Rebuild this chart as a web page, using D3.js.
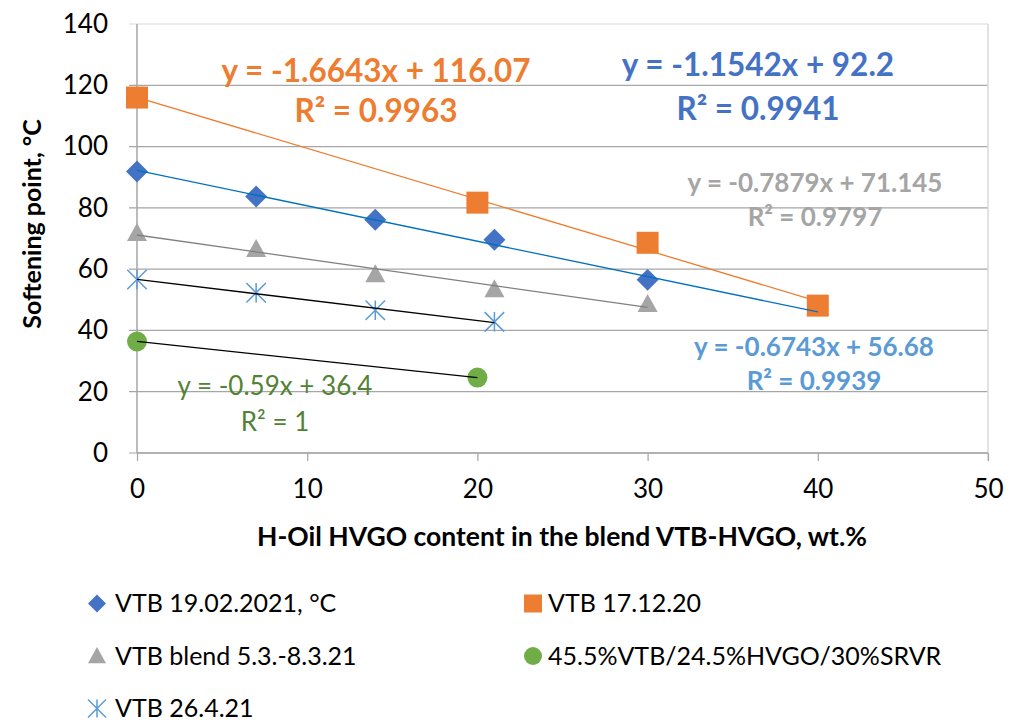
<!DOCTYPE html>
<html>
<head>
<meta charset="utf-8">
<script src="https://cdn.jsdelivr.net/npm/d3@7"></script>
<style>
  body { margin: 0; background: #fff; }
  text { font-family: Lato, "Liberation Sans", sans-serif; }
</style>
</head>
<body>
<div id="chart"></div>
<script>
// values
var xVtb1902 = [0, 7, 14, 21, 30];
var yVtb1902 = [91.9, 83.7, 76.1, 69.6, 56.5];
var xVtb1712 = [0, 20, 30, 40];
var yVtb1712 = [116, 81.7, 68.6, 48.1];
var xBlend = [0, 7, 14, 21, 30];
var yBlend = [71.8, 66.6, 58.3, 53.4, 48.6];
var xSrvr = [0, 20];
var ySrvr = [36.4, 24.6];
var xVtb2604 = [0, 7, 14, 21];
var yVtb2604 = [56.6, 52.3, 46.6, 42.8];

var xTicks = [0, 10, 20, 30, 40, 50];
var yTicks = [0, 20, 40, 60, 80, 100, 120, 140];

var W = 1013, H = 724;
var margin = { left: 137, right: 25, top: 24, bottom: 271 };

var svg = d3.select("#chart").append("svg")
  .attr("width", W).attr("height", H);

var x = d3.scaleLinear().domain([0, 50]).range([margin.left, W - margin.right]);
var y = d3.scaleLinear().domain([0, 140]).range([H - margin.bottom, margin.top]);

var GRID = "#a6a6a6";

// gridlines
svg.append("g").selectAll("line.grid")
  .data(yTicks)
  .enter().append("line")
  .attr("x1", x(0) - 8).attr("x2", x(50))
  .attr("y1", function(d) { return y(d); }).attr("y2", function(d) { return y(d); })
  .attr("stroke", function(d) { return d == 140 ? "#d9d9d9" : GRID; })
  .attr("stroke-width", 1.2);

// frame right side
svg.append("line")
  .attr("x1", x(50)).attr("x2", x(50)).attr("y1", y(140)).attr("y2", y(0) + 8)
  .attr("stroke", "#d9d9d9").attr("stroke-width", 1.5);

// axes
var xAxis = d3.axisBottom(x).tickValues(xTicks).tickSize(8).tickPadding(19);
var yAxis = d3.axisLeft(y).tickValues(yTicks).tickSize(0).tickPadding(29);

var gx = svg.append("g").attr("transform", "translate(0," + y(0) + ")").call(xAxis);
var gy = svg.append("g").attr("transform", "translate(" + x(0) + ",0)").call(yAxis);
[gx, gy].forEach(function(g) {
  g.select(".domain").attr("stroke", GRID).attr("stroke-width", 1.5);
  g.selectAll(".tick line").attr("stroke", GRID).attr("stroke-width", 1.2);
  g.selectAll(".tick text").attr("fill", "#000")
    .style("font-size", "26px").style("font-family", "Lato, sans-serif");
});
gx.select(".domain").attr("d", "M" + x(0) + ",0H" + x(50));
gy.select(".domain").attr("d", "M0," + y(140) + "V" + y(0));

// axis titles
svg.append("text")
  .attr("transform", "translate(41," + 224 + ") rotate(-90)")
  .attr("text-anchor", "middle")
  .style("font-size", "25px").style("font-weight", "bold")
  .text("Softening point, °C");
svg.append("text")
  .attr("x", 562).attr("y", 546)
  .attr("text-anchor", "middle")
  .style("font-size", "26.5px").style("font-weight", "bold")
  .text("H-Oil HVGO content in the blend VTB-HVGO, wt.%");

// trend lines (from the fitted equations shown in the picture)
var trends = [
  { slope: -1.6643, icpt: 116.07, x0: 0, x1: 40, color: "#ed7d31", w: 1.3 },
  { slope: -1.1542, icpt: 92.2, x0: 0, x1: 40, color: "#0070c0", w: 1.3 },
  { slope: -0.7879, icpt: 71.145, x0: 0, x1: 30, color: "#808080", w: 1.3 },
  { slope: -0.6743, icpt: 56.68, x0: 0, x1: 21, color: "#000000", w: 1.3 },
  { slope: -0.59, icpt: 36.4, x0: 0, x1: 20, color: "#000000", w: 1.3 }
];

function drawMarks(xs, ys, sym, size, color, stroke) {
  var g = svg.append("g");
  g.selectAll("path")
    .data(xs.map(function(d, i) { return [d, ys[i]]; }))
    .enter().append("path")
    .attr("transform", function(d) { return "translate(" + x(d[0]) + "," + y(d[1]) + ")"; })
    .attr("d", d3.symbol().type(sym).size(size))
    .attr("fill", stroke ? "none" : color)
    .attr("stroke", stroke ? color : "none")
    .attr("stroke-width", stroke ? 1.5 : 0);
}

// asterisk symbol (Excel "star" marker)
var symAsterisk = {
  draw: function(ctx, size) {
    var r = Math.sqrt(size) / 2;
    ctx.moveTo(0, -r); ctx.lineTo(0, r);
    ctx.moveTo(-r, -r); ctx.lineTo(r, r);
    ctx.moveTo(-r, r); ctx.lineTo(r, -r);
  }
};
var symDiamond = {
  draw: function(ctx, size) {
    var r = Math.sqrt(size) / 2 * 1.41;
    ctx.moveTo(0, -r); ctx.lineTo(r, 0); ctx.lineTo(0, r); ctx.lineTo(-r, 0); ctx.closePath();
  }
};
var symTriangle = {
  draw: function(ctx, size) {
    var r = Math.sqrt(size) / 2;
    ctx.moveTo(0, -r); ctx.lineTo(r, r * 0.8); ctx.lineTo(-r, r * 0.8); ctx.closePath();
  }
};

drawMarks(xVtb1902, yVtb1902, symDiamond, 243, "#4472c4");
drawMarks(xVtb1712, yVtb1712, d3.symbolSquare, 484, "#ed7d31");
drawMarks(xBlend, yBlend, symTriangle, 400, "#a5a5a5");
drawMarks(xSrvr, ySrvr, d3.symbolCircle, 314, "#70ad47");
drawMarks(xVtb2604, yVtb2604, symAsterisk, 380, "#5b9bd5", true);

svg.append("g").selectAll("line.trend")
  .data(trends)
  .enter().append("line")
  .attr("x1", function(t) { return x(t.x0); })
  .attr("x2", function(t) { return x(t.x1); })
  .attr("y1", function(t) { return y(t.icpt + t.slope * t.x0); })
  .attr("y2", function(t) { return y(t.icpt + t.slope * t.x1); })
  .attr("stroke", function(t) { return t.color; })
  .attr("stroke-width", function(t) { return t.w; });

// equation labels
var eqLabels = [
  { l1: "y = -1.6643x + 116.07", l2: "R² = 0.9963", cx: 376, y1: 82, y2: 122, size: 31.5, bold: true, color: "#ed7d31" },
  { l1: "y = -1.1542x + 92.2", l2: "R² = 0.9941", cx: 758, y1: 76, y2: 120, size: 31.5, bold: true, color: "#4472c4" },
  { l1: "y = -0.7879x + 71.145", l2: "R² = 0.9797", cx: 815, y1: 192, y2: 226, size: 26, bold: true, color: "#a5a5a5" },
  { l1: "y = -0.6743x + 56.68", l2: "R² = 0.9939", cx: 814, y1: 356, y2: 390, size: 26, bold: true, color: "#5b9bd5" },
  { l1: "y = -0.59x + 36.4", l2: "R² = 1", cx: 275, y1: 395, y2: 431, size: 26, bold: false, color: "#548235" }
];
eqLabels.forEach(function(e) {
  [e.l1, e.l2].forEach(function(t, i) {
    svg.append("text")
      .attr("x", e.cx).attr("y", i == 0 ? e.y1 : e.y2)
      .attr("text-anchor", "middle")
      .attr("fill", e.color)
      .style("font-size", e.size + "px")
      .style("font-weight", e.bold ? "bold" : "normal")
      .text(t);
  });
});

// legend
var legendNames = ["VTB 19.02.2021, °C", "VTB 17.12.20", "VTB blend 5.3.-8.3.21",
  "45.5%VTB/24.5%HVGO/30%SRVR", "VTB 26.4.21"];
var legendSyms = [symDiamond, d3.symbolSquare, symTriangle, d3.symbolCircle, symAsterisk];
var legendColors = ["#4472c4", "#ed7d31", "#a5a5a5", "#70ad47", "#5b9bd5"];
var legendSizes = [163, 324, 324, 254, 324];

var leg = svg.append("g");
legendNames.forEach(function(name, i) {
  var lx = i % 2 == 0 ? 97 : 533;
  var ly = 603.5 + Math.floor(i / 2) * 52.5;
  var star = legendSyms[i] === symAsterisk;
  leg.append("path")
    .attr("transform", "translate(" + lx + "," + ly + ")")
    .attr("d", d3.symbol().type(legendSyms[i]).size(legendSizes[i]))
    .attr("fill", star ? "none" : legendColors[i])
    .attr("stroke", star ? legendColors[i] : "none")
    .attr("stroke-width", 1.5);
  leg.append("text")
    .attr("x", lx + (i % 2 == 0 ? 18 : 15)).attr("y", ly + 8.5)
    .style("font-size", "25px")
    .text(name);
});
</script>
</body>
</html>
